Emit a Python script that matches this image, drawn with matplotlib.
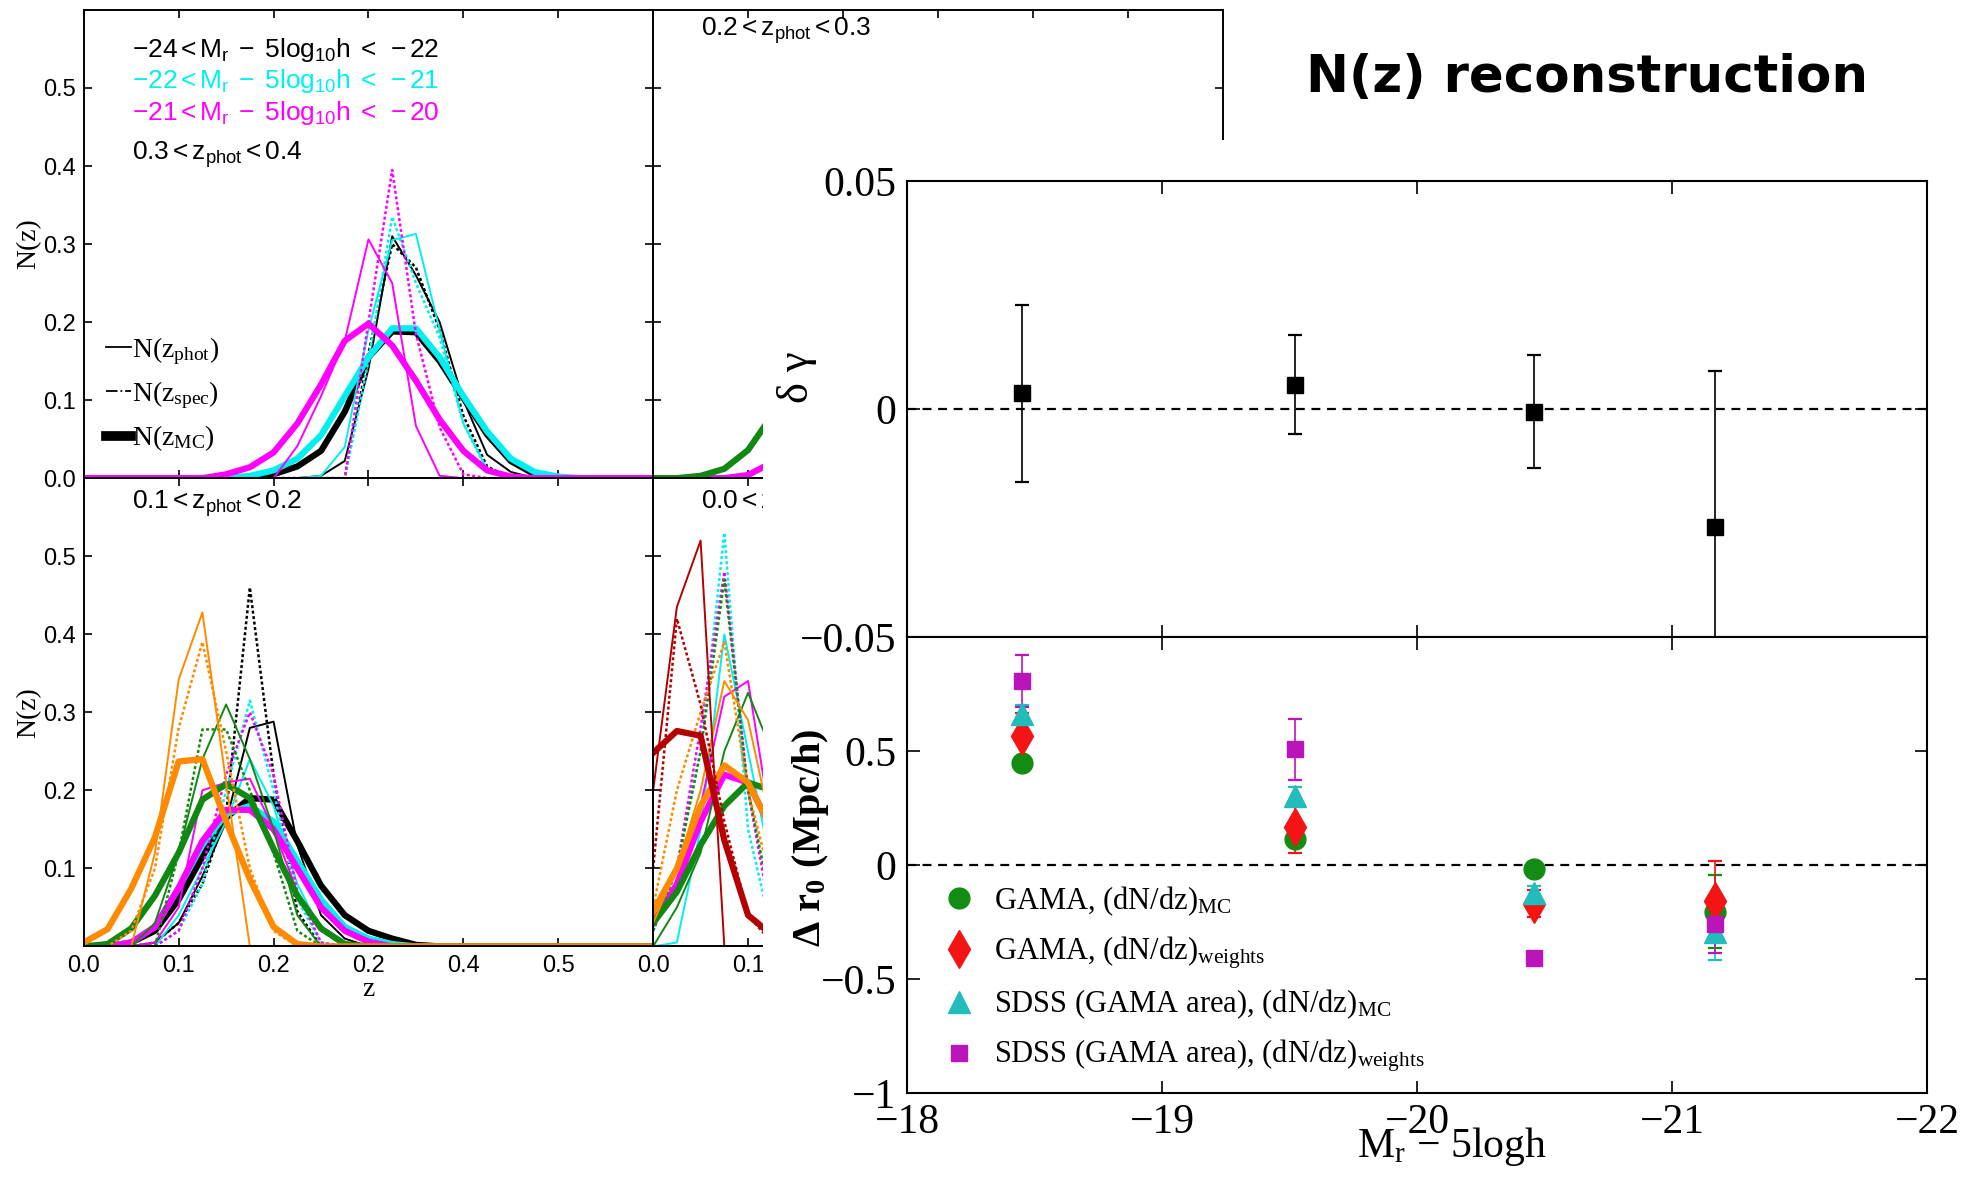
"""N(z) reconstruction: photo-z distributions (left) and clustering offsets (right)."""

import numpy as np
import matplotlib
matplotlib.use("Agg")
import matplotlib.pyplot as plt
from matplotlib.lines import Line2D
from matplotlib.patches import Rectangle
from matplotlib.font_manager import FontProperties

plt.rcParams["mathtext.fontset"] = "stix"

SANS = ["Liberation Sans Narrow", "Liberation Sans", "DejaVu Sans"]
SERIF = ["Liberation Serif", "DejaVu Serif"]

# ---- left panels: N(z) on a 0.025 grid, (start z, values) ----
dz = 0.025
z = np.arange(25) * dz

# 0.3 < z_phot < 0.4
tl_black_phot = (0.25, [0.003, 0.022, 0.14, 0.31, 0.26, 0.2, 0.1, 0.03, 0.008, 0.0])
tl_black_spec = (0.275, [0.0, 0.16, 0.3, 0.27, 0.19, 0.08, 0.015, 0.0])
tl_black_mc = (0.2, [0.005, 0.015, 0.035, 0.085, 0.155, 0.188, 0.187, 0.15, 0.103, 0.056, 0.022, 0.005, 0.0])
tl_cyan_phot = (0.225, [0.0, 0.003, 0.04, 0.19, 0.305, 0.313, 0.19, 0.07, 0.012, 0.0])
tl_cyan_spec = (0.275, [0.0, 0.15, 0.335, 0.25, 0.18, 0.07, 0.01, 0.0])
tl_cyan_mc = (0.175, [0.003, 0.01, 0.025, 0.055, 0.105, 0.155, 0.192, 0.192, 0.155, 0.105, 0.06, 0.025, 0.008, 0.002, 0.0])
tl_mag_phot = (0.2, [0.0, 0.041, 0.105, 0.176, 0.306, 0.25, 0.067, 0.003, 0.0])
tl_mag_spec = (0.25, [0.0, 0.0, 0.2, 0.395, 0.185, 0.065, 0.005, 0.0])
tl_mag_mc = (0.125, [0.0, 0.005, 0.014, 0.033, 0.07, 0.12, 0.176, 0.198, 0.17, 0.125, 0.075, 0.035, 0.01, 0.002, 0.0])

# 0.2 < z_phot < 0.3 (mostly hidden)
tr_mag_mc = (0.075, [0.0, 0.004, 0.02, 0.06, 0.13, 0.19, 0.2, 0.15, 0.09, 0.04, 0.01, 0.0])
tr_green_mc = (0.025, [0.0, 0.003, 0.012, 0.036, 0.08, 0.15, 0.2, 0.21, 0.17, 0.11, 0.06, 0.02, 0.005, 0.0])

# 0.1 < z_phot < 0.2
bl_black_phot = (0.05, [0.0, 0.005, 0.03, 0.09, 0.16, 0.28, 0.288, 0.13, 0.04, 0.01, 0.0])
bl_black_spec = (0.05, [0.0, 0.005, 0.03, 0.08, 0.17, 0.46, 0.22, 0.045, 0.0])
bl_black_mc = (0.025, [0.0, 0.005, 0.02, 0.06, 0.115, 0.165, 0.19, 0.188, 0.135, 0.078, 0.04, 0.02, 0.01, 0.002, 0.0])
bl_cyan_phot = (0.05, [0.0, 0.0, 0.04, 0.1, 0.16, 0.24, 0.18, 0.08, 0.02, 0.0])
bl_cyan_spec = (0.075, [0.0, 0.02, 0.08, 0.2, 0.315, 0.2, 0.06, 0.005, 0.0])
bl_cyan_mc = (0.025, [0.0, 0.005, 0.025, 0.075, 0.13, 0.17, 0.18, 0.16, 0.11, 0.06, 0.025, 0.01, 0.003, 0.0])
bl_mag_phot = (0.05, [0.0, 0.005, 0.05, 0.2, 0.21, 0.215, 0.15, 0.07, 0.02, 0.003, 0.0])
bl_mag_spec = (0.075, [0.0, 0.02, 0.1, 0.22, 0.3, 0.22, 0.07, 0.005, 0.0])
bl_mag_mc = (0.025, [0.0, 0.005, 0.025, 0.075, 0.135, 0.175, 0.175, 0.15, 0.1, 0.05, 0.02, 0.006, 0.0])
bl_green_phot = (0.05, [0.0, 0.03, 0.12, 0.24, 0.31, 0.24, 0.15, 0.04, 0.0])
bl_green_spec = (0.075, [0.0, 0.12, 0.278, 0.278, 0.2, 0.12, 0.02, 0.0])
bl_green_mc = (0.0, [0.0, 0.003, 0.023, 0.065, 0.12, 0.188, 0.208, 0.19, 0.125, 0.065, 0.023, 0.003, 0.0])
bl_orange_phot = (0.05, [0.0, 0.12, 0.342, 0.428, 0.21, 0.0])
bl_orange_spec = (0.025, [0.0, 0.02, 0.1, 0.28, 0.39, 0.25, 0.1, 0.02, 0.0])
bl_orange_mc = (0.0, [0.005, 0.022, 0.074, 0.14, 0.237, 0.24, 0.16, 0.086, 0.025, 0.003, 0.0])

# 0.0 < z_phot < 0.1
br_cyan_phot = (0.0, [0.0, 0.005, 0.15, 0.4, 0.25, 0.1, 0.02, 0.0])
br_cyan_spec = (0.0, [0.02, 0.1, 0.25, 0.53, 0.15, 0.02, 0.0])
br_mag_phot = (0.0, [0.03, 0.08, 0.18, 0.32, 0.34, 0.15, 0.04, 0.0])
br_mag_spec = (0.0, [0.02, 0.1, 0.28, 0.48, 0.2, 0.03, 0.0])
br_mag_mc = (0.0, [0.03, 0.08, 0.16, 0.22, 0.21, 0.15, 0.07, 0.02, 0.0])
br_green_phot = (0.0, [0.0, 0.05, 0.12, 0.25, 0.325, 0.25, 0.12, 0.03, 0.0])
br_green_spec = (0.0, [0.02, 0.1, 0.25, 0.47, 0.2, 0.05, 0.0])
br_green_mc = (0.0, [0.03, 0.07, 0.13, 0.18, 0.21, 0.2, 0.13, 0.06, 0.02, 0.0])
br_orange_phot = (0.0, [0.03, 0.1, 0.2, 0.34, 0.29, 0.15, 0.05, 0.0])
br_orange_spec = (0.0, [0.05, 0.2, 0.3, 0.39, 0.2, 0.08, 0.01, 0.0])
br_orange_mc = (0.0, [0.045, 0.1, 0.18, 0.232, 0.21, 0.15, 0.08, 0.03, 0.0])
br_red_phot = (0.0, [0.2, 0.435, 0.52, 0.0])
br_red_spec = (0.0, [0.1, 0.42, 0.31, 0.16, 0.04, 0.005, 0.0])
br_red_mc = (0.0, [0.248, 0.276, 0.27, 0.136, 0.04, 0.015, 0.003, 0.0])

mag_bin_labels = [r"$\mathdefault{-24<M_r\ -\ 5log_{10}h\ <\ -22}$",
                  r"$\mathdefault{-22<M_r\ -\ 5log_{10}h\ <\ -21}$",
                  r"$\mathdefault{-21<M_r\ -\ 5log_{10}h\ <\ -20}$"]
zphot_labels = [r"$\mathdefault{0.3<z_{phot}<0.4}$", r"$\mathdefault{0.2<z_{phot}<0.3}$",
                r"$\mathdefault{0.1<z_{phot}<0.2}$", r"$\mathdefault{0.0<z_{phot}<0.1}$"]
z_tick_labels = ["0.0", "0.1", "0.2", "0.2", "0.4", "0.5"]

# ---- right panels ----
mags = [-18.45, -19.52, -20.46, -21.17]
dgamma = [0.0035, 0.0053, -0.0005, -0.0258]
dgamma_err_lo = [0.0194, 0.0108, 0.0123, 0.0262]
dgamma_err_hi = [0.0193, 0.0111, 0.0125, 0.0342]

gama_mc = [0.448, 0.115, -0.016, -0.205]
gama_mc_err = [0.02, 0.03, 0.03, 0.16]
gama_w = [0.566, 0.169, -0.17, -0.156]
gama_w_err = [0.1, 0.118, 0.06, 0.172]
sdss_mc = [0.664, 0.303, -0.123, -0.295]
sdss_mc_err = [0.04, 0.04, 0.03, 0.123]
sdss_w = [0.807, 0.508, -0.407, -0.259]
sdss_w_err = [0.115, 0.135, 0.02, 0.126]

C_K, C_CY, C_MG, C_GR, C_OR, C_DR = "black", "#00f0f0", "#ff00ff", "#118811", "#ff8a00", "#b40000"


def on_grid(curve):
    start, vals = curve
    y = np.zeros_like(z)
    i = int(round(start / dz))
    y[i:i + len(vals)] = vals
    return y


def draw_set(ax, color, phot=None, spec=None, mc=None):
    if mc is not None:
        ax.plot(z, on_grid(mc), color=color, lw=4.5, solid_joinstyle="round")
    if phot is not None:
        ax.plot(z, on_grid(phot), color=color, lw=1.4)
    if spec is not None:
        ax.plot(z, on_grid(spec), color=color, lw=1.8, ls=(0, (1.2, 1.0)))


def style_left(ax, xlabels, ylabels):
    ax.set_xlim(0, 0.6)
    ax.set_ylim(0, 0.6)
    ax.set_xticks(np.arange(6) * 0.1)
    ax.set_yticks(np.arange(6) * 0.1)
    ax.tick_params(direction="in", length=6, width=1.2, top=True, right=True,
                   labelsize=17, pad=6)
    for s in ax.spines.values():
        s.set_linewidth(1.4)
    if xlabels is None:
        ax.set_xticklabels([])
    else:
        ax.set_xticklabels(xlabels, family=SANS)
    if ylabels is None:
        ax.set_yticklabels([])
    else:
        ax.set_yticklabels(ylabels, family=SANS)


fig = plt.figure(figsize=(19.62, 11.83), dpi=100)

ax_tl = fig.add_axes([0.0427, 0.5958, 0.2902, 0.3958])
ax_tr = fig.add_axes([0.3329, 0.5958, 0.2902, 0.3958])
ax_bl = fig.add_axes([0.0427, 0.2, 0.2902, 0.3958])
ax_br = fig.add_axes([0.3329, 0.2, 0.2902, 0.3958])

draw_set(ax_tl, C_K, tl_black_phot, tl_black_spec, tl_black_mc)
draw_set(ax_tl, C_CY, tl_cyan_phot, tl_cyan_spec, tl_cyan_mc)
draw_set(ax_tl, C_MG, tl_mag_phot, tl_mag_spec, tl_mag_mc)

draw_set(ax_tr, C_MG, mc=tr_mag_mc)
draw_set(ax_tr, C_GR, mc=tr_green_mc)

draw_set(ax_bl, C_K, bl_black_phot, bl_black_spec, bl_black_mc)
draw_set(ax_bl, C_CY, bl_cyan_phot, bl_cyan_spec, bl_cyan_mc)
draw_set(ax_bl, C_MG, bl_mag_phot, bl_mag_spec, bl_mag_mc)
draw_set(ax_bl, C_GR, bl_green_phot, bl_green_spec, bl_green_mc)
draw_set(ax_bl, C_OR, bl_orange_phot, bl_orange_spec, bl_orange_mc)

draw_set(ax_br, C_CY, br_cyan_phot, br_cyan_spec)
draw_set(ax_br, C_MG, br_mag_phot, br_mag_spec, br_mag_mc)
draw_set(ax_br, C_GR, br_green_phot, br_green_spec, br_green_mc)
draw_set(ax_br, C_OR, br_orange_phot, br_orange_spec, br_orange_mc)
draw_set(ax_br, C_DR, br_red_phot, br_red_spec, br_red_mc)

style_left(ax_tl, None, ["0.0", "0.1", "0.2", "0.3", "0.4", "0.5"])
style_left(ax_tr, None, None)
style_left(ax_bl, z_tick_labels, ["", "0.1", "0.2", "0.3", "0.4", "0.5"])
# only the first two labels of this panel show beside the right-hand figure
style_left(ax_br, z_tick_labels[:2] + [""] * 4, None)

for ax in (ax_tl, ax_bl):
    ax.set_ylabel("N(z)", family=SERIF, fontsize=20, labelpad=0)
    ax.yaxis.set_label_coords(-0.075, 0.5)
ax_bl.set_xlabel("z", family=SERIF, fontsize=20, labelpad=0)

for ax, lab in zip((ax_tl, ax_tr, ax_bl, ax_br), zphot_labels):
    ax.text(0.084, 0.69 if ax is ax_tl else (0.955 if ax is ax_tr else 0.945), lab,
            transform=ax.transAxes, family=SANS, fontsize=19, va="center")
for lab, col, yy in zip(mag_bin_labels, (C_K, C_CY, C_MG), (0.914, 0.848, 0.78)):
    ax_tl.text(0.084, yy, lab, transform=ax_tl.transAxes, color=col,
               family=SANS, fontsize=19, va="center")

handles = [Line2D([], [], color="k", lw=1.3),
           Line2D([], [], color="k", lw=1.3, ls="-."),
           Line2D([], [], color="k", lw=7)]
ax_tl.legend(handles, [r"$\mathdefault{N(z_{phot})}$", r"$\mathdefault{N(z_{spec})}$",
                       r"$\mathdefault{N(z_{MC})}$"],
             loc="lower left", bbox_to_anchor=(-0.005, 0.0), frameon=False,
             handlelength=0.9, handletextpad=0.05, labelspacing=0.45,
             prop=FontProperties(family=SERIF, size=20))

# white sheet carrying the right-hand figure
fig.add_artist(Rectangle((0.389, 0.0), 0.62, 0.8815, transform=fig.transFigure,
                         facecolor="white", edgecolor="none", zorder=1))
fig.text(0.8087, 0.934, "N(z) reconstruction", ha="center", va="center",
         fontsize=37, fontweight="bold", family="DejaVu Sans", zorder=3)

ax_g = fig.add_axes([0.4624, 0.4614, 0.5198, 0.3852])
ax_r = fig.add_axes([0.4624, 0.0762, 0.5198, 0.3852])
for ax in (ax_g, ax_r):
    ax.set_zorder(2)
    ax.set_xlim(-18, -22)
    ax.set_xticks([-18, -19, -20, -21, -22])
    ax.axhline(0, color="k", ls=(0, (4, 3)), lw=1.6)
    ax.tick_params(direction="in", length=9, width=1.2, top=True, right=True,
                   labelsize=30, pad=8)
    for s in ax.spines.values():
        s.set_linewidth(1.5)

ax_g.errorbar(mags, dgamma, yerr=[dgamma_err_lo, dgamma_err_hi], fmt="s", color="k",
              ms=11, elinewidth=1.2, capsize=5, capthick=1.6)
ax_g.set_ylim(-0.05, 0.05)
ax_g.set_yticks([0.05, 0, -0.05], ["0.05", "0", "−0.05"], family=SERIF)
ax_g.set_xticklabels([])
ax_g.set_ylabel("δ γ", family=SERIF, fontsize=32)
ax_g.yaxis.set_label_coords(-0.088, 0.57)

series = [(gama_mc, gama_mc_err, "o", 15, "#128c12", r"GAMA, (dN/dz)$_\mathdefault{MC}$"),
          (gama_w, gama_w_err, "d", 19, "#f41414", r"GAMA, (dN/dz)$_\mathdefault{weights}$"),
          (sdss_mc, sdss_mc_err, "^", 16, "#22bcbc", r"SDSS (GAMA area), (dN/dz)$_\mathdefault{MC}$"),
          (sdss_w, sdss_w_err, "s", 12, "#bb14bb", r"SDSS (GAMA area), (dN/dz)$_\mathdefault{weights}$")]
hs = []
for vals, err, mk, ms, col, lab in series:
    h = ax_r.errorbar(mags, vals, yerr=err, fmt=mk, ms=ms, color=col, elinewidth=1.2,
                      capsize=5, capthick=1.6, label=lab)
    hs.append(h)
ax_r.set_ylim(-1, 1)
ax_r.set_yticks([0.5, 0, -0.5, -1], ["0.5", "0", "−0.5", "−1"], family=SERIF)
ax_r.set_xticklabels(["−18", "−19", "−20", "−21", "−22"], family=SERIF)
ax_r.set_ylabel(r"Δ r$_\mathdefault{0}$ (Mpc/h)", family=SERIF, fontsize=29, fontweight="bold")
ax_r.yaxis.set_label_coords(-0.075, 0.56)
ax_r.set_xlabel(r"M$_\mathdefault{r}$ − 5logh", family=SERIF, fontsize=30)
ax_r.xaxis.label.set_va("center")
ax_r.xaxis.set_label_coords(0.534, -0.118)
ax_r.legend(handles=[h[0] for h in hs], labels=[s[5] for s in series], loc="lower left",
            bbox_to_anchor=(-0.006, -0.02), frameon=False, handletextpad=0.15,
            labelspacing=0.55, prop=FontProperties(family=SERIF, size=22))

fig.savefig("out.png", dpi=100, facecolor="white")
